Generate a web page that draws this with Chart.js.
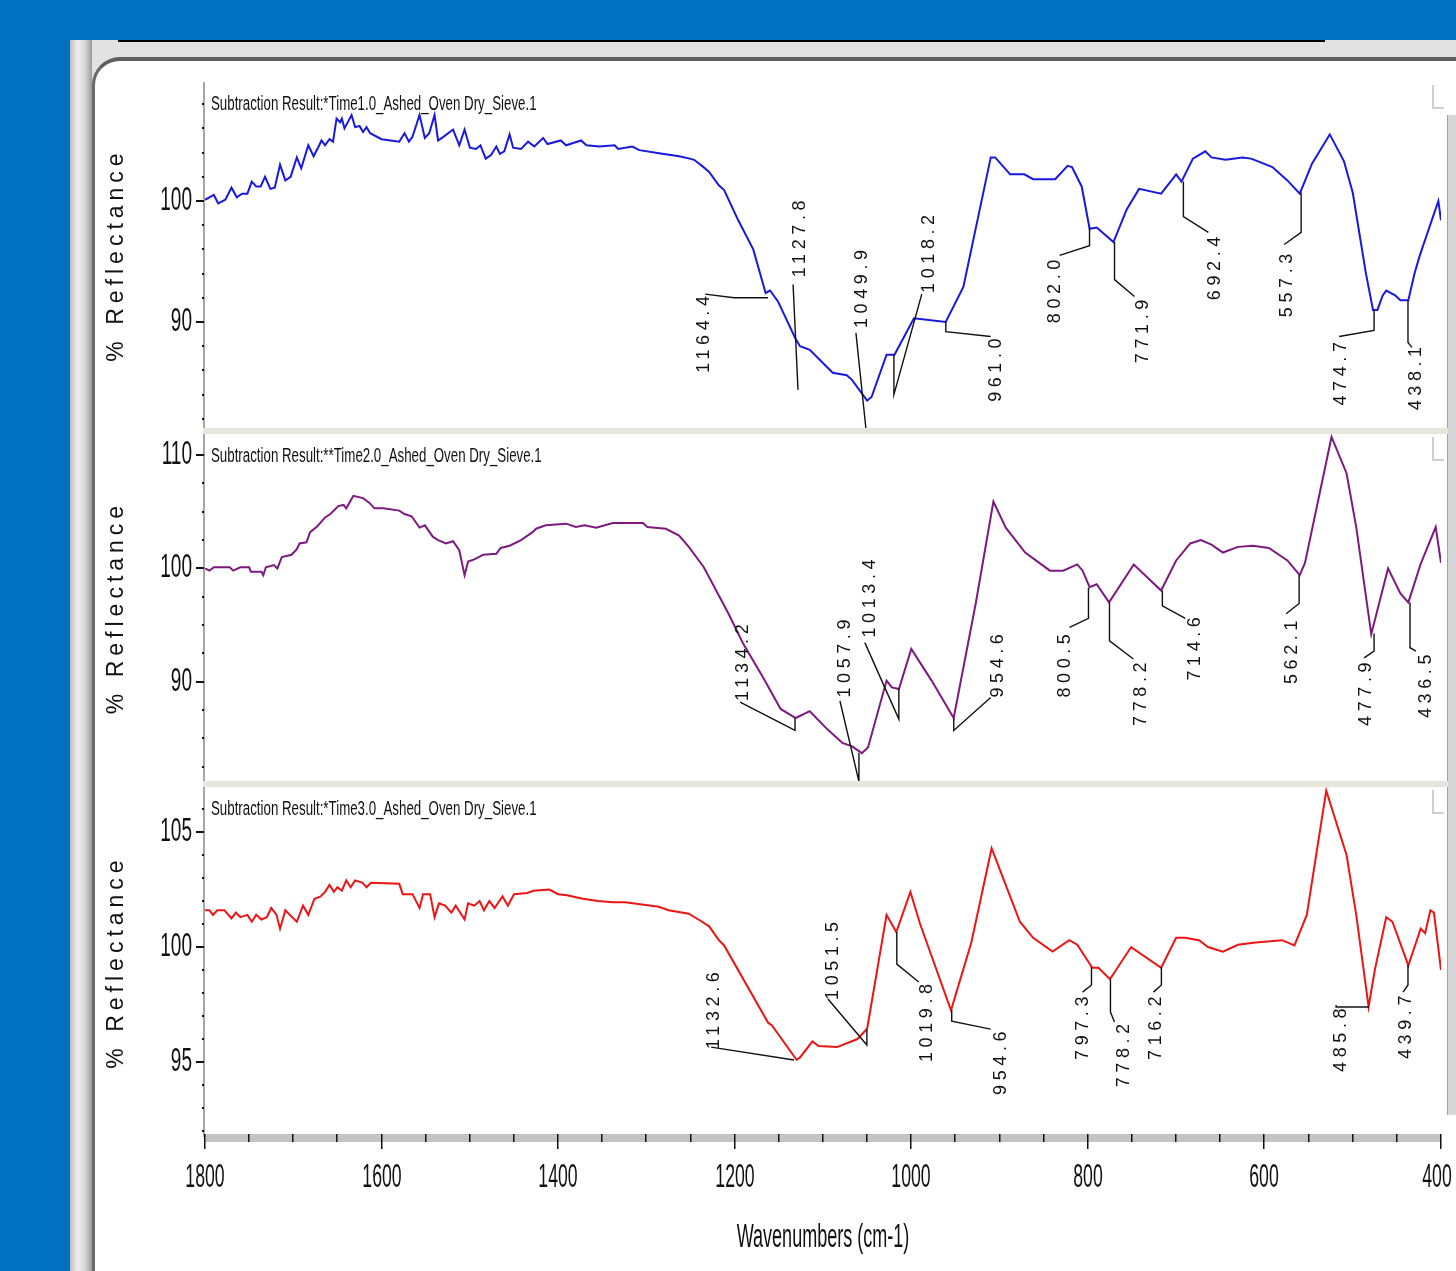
<!DOCTYPE html>
<html>
<head>
<meta charset="utf-8">
<style>
  html, body { margin: 0; padding: 0; }
  body { width: 1456px; height: 1271px; background: #0070c0; position: relative; overflow: hidden; }
  div, canvas { position: absolute; }
  .win { left: 70px; top: 40px; width: 1386px; height: 1231px; background: #e2e2e2; }
  .leftstrip { left: 70px; top: 40px; width: 22px; height: 1231px;
    background: linear-gradient(to right, #bdbdbd 0, #efefef 35%, #d4d4d4 70%, #9a9a9a 100%); }
  .topline { left: 118px; top: 40px; width: 1207px; height: 2px; background: #000; }
  .panel { left: 92px; top: 57px; width: 1420px; height: 1260px; background: #fff;
    border-top: 4px solid #5e5e5e; border-left: 3px solid #6a6a6a;
    border-top-left-radius: 28px; box-sizing: border-box; }
  .sep { left: 203px; width: 1245px; height: 6px; background: #e6e6da; }
  .scroll { left: 1447px; top: 115px; width: 9px; height: 1000px; background: #d6d6d6; border-left: 1px solid #a4a4a4; }
</style>
</head>
<body>
<div class="win"></div>
<div class="leftstrip"></div>
<div class="topline"></div>
<div class="panel"></div>
<div class="scroll"></div>
<div class="sep" style="top:428px"></div>
<div class="sep" style="top:781px"></div>
<canvas id="c1" width="1361" height="346" style="left:95px;top:82px"></canvas>
<canvas id="c2" width="1361" height="347" style="left:95px;top:434px"></canvas>
<canvas id="c3" width="1361" height="484" style="left:95px;top:787px"></canvas>

<script src="https://cdn.jsdelivr.net/npm/chart.js"></script>
<script>
// ---- data ----
const wn1 = [1800,1795,1790,1785,1777,1770,1764,1758,1752,1747,1742,1737,1732,1726,1721,1715,1709,1703,1696,1691,
  1683,1677,1672,1668,1664,1659,1655,1651,1647,1645,1642,1634,1630,1625,1621,1617,1613,1600,1580,1574,
  1569,1565,1557,1551,1546,1540,1536,1530,1519,1512,1506,1500,1493,1488,1482,1476,1470,1466,1461,1455,
  1451,1442,1434,1427,1417,1412,1397,1391,1374,1368,1353,1336,1332,1316,1308,1282,1263,1251,1246,1237,
  1229,1218,1212,1196,1179,1165,1160,1151,1131,1126,1115,1089,1073,1067,1050,1045,1028,1019,997,961,
  941,910,905,888,872,862,837,823,818,807,798,790,771,756,742,717,700,694,681,667,
  660,644,625,615,591,574,560,546,526,510,500,485,477,472,466,462,452,446,437,430,
  424,417,410,403,400];
const refl1 = [100.1,100.3,100.5,99.8,100.1,101.1,100.3,100.6,100.6,101.6,101.2,101.2,102.0,101.0,101.1,103.0,101.7,102.0,103.6,102.7,
  104.6,103.7,104.4,105.0,104.6,105.1,104.9,106.8,106.5,106.8,106.0,107.1,106.1,106.2,105.7,106.1,105.6,105.1,104.9,105.6,
  104.9,105.3,107.1,105.2,105.6,107.1,105.0,105.3,105.9,104.6,105.9,104.4,104.3,104.6,103.5,103.8,104.5,103.9,104.1,105.5,
  104.4,104.3,104.9,104.5,105.2,104.7,105.0,104.6,105.0,104.6,104.5,104.6,104.3,104.5,104.2,103.9,103.7,103.5,103.4,102.9,
  102.4,101.3,100.9,98.4,96.0,92.4,92.6,91.7,88.6,88.0,87.7,85.8,85.6,85.2,83.5,83.8,87.3,87.3,90.3,90.0,
  92.9,103.6,103.6,102.2,102.2,101.8,101.8,102.9,102.8,101.2,97.7,97.8,96.6,99.3,101.0,100.6,102.2,101.6,103.5,104.1,
  103.6,103.4,103.6,103.5,102.8,101.7,100.6,103.1,105.5,103.3,100.7,94.0,91.0,91.0,92.2,92.6,92.2,91.8,91.8,94.0,
  95.5,97.0,98.5,100.0,98.4];

const wn2 = [1800,1795,1790,1772,1768,1760,1750,1748,1736,1734,1731,1722,1718,1713,1702,1696,1693,1685,1681,1673,
  1664,1658,1649,1643,1640,1632,1621,1614,1608,1598,1580,1574,1566,1557,1551,1542,1536,1527,1519,1512,
  1506,1502,1495,1490,1485,1470,1465,1455,1442,1429,1425,1414,1391,1380,1370,1357,1338,1304,1299,1278,
  1263,1252,1235,1207,1190,1168,1148,1131,1115,1095,1078,1067,1056,1049,1028,1022,1014,1000,977,952,
  927,907,893,871,843,828,812,806,798,790,776,748,717,700,684,672,660,647,630,613,
  595,574,560,554,524,507,496,479,460,446,437,423,406,400];
const refl2 = [100.0,99.8,100.1,100.1,99.8,100.1,100.1,99.7,99.7,99.4,100.1,100.3,100.0,101.0,101.2,101.7,102.2,102.3,103.2,103.7,
  104.5,104.8,105.5,105.6,105.3,106.4,106.2,105.8,105.3,105.3,105.1,104.8,104.6,103.6,103.8,102.8,102.5,102.2,102.4,101.6,
  99.4,100.6,100.8,101.0,101.2,101.3,101.8,102.0,102.5,103.2,103.5,103.8,103.95,103.65,103.8,103.6,104.0,104.0,103.65,103.5,
  102.9,101.9,100.1,96.0,93.3,90.4,87.6,86.8,87.4,85.8,84.6,84.3,83.7,84.2,90.1,89.5,89.35,92.9,90.1,86.8,
  96.9,105.9,103.6,101.4,99.8,99.8,100.35,99.8,98.35,98.6,97.0,100.35,98.05,100.7,102.2,102.5,102.1,101.4,101.9,102.0,
  101.8,100.7,99.4,100.5,111.6,108.4,103.65,94.2,100.0,97.8,97.0,100.4,103.65,100.5];

const wn3 = [1800,1795,1791,1786,1778,1770,1765,1760,1752,1747,1742,1736,1730,1725,1719,1715,1709,1704,1696,1689,
  1683,1676,1669,1664,1659,1654,1650,1645,1640,1635,1630,1622,1617,1612,1580,1576,1565,1557,1553,1545,
  1540,1535,1528,1521,1516,1506,1502,1495,1489,1484,1478,1472,1463,1457,1450,1435,1428,1410,1400,1390,
  1372,1355,1338,1324,1286,1275,1252,1237,1229,1218,1212,1162,1158,1130,1126,1112,1105,1084,1061,1050,
  1028,1017,1001,990,955,932,909,896,877,862,840,821,812,795,788,775,751,717,700,690,
  674,664,647,630,610,580,566,552,530,507,496,482,475,462,455,437,423,418,412,408,400];
const refl3 = [101.6,101.6,101.4,101.6,101.6,101.25,101.5,101.3,101.4,101.1,101.4,101.2,101.3,101.7,101.4,100.8,101.6,101.4,101.1,101.8,
  101.4,102.1,102.2,102.4,102.7,102.4,102.6,102.45,102.9,102.6,102.9,102.8,102.6,102.8,102.75,102.3,102.3,101.7,102.3,102.3,
  101.3,101.9,101.8,101.5,101.8,101.2,101.9,101.8,102.0,101.6,102.0,101.7,102.2,101.8,102.3,102.35,102.45,102.5,102.3,102.25,
  102.1,102.0,101.95,101.95,101.75,101.6,101.45,101.1,100.9,100.3,100.07,96.7,96.6,95.1,95.2,95.9,95.7,95.65,96.0,96.45,
  101.4,100.65,102.4,101.0,97.25,100.2,104.3,103.0,101.1,100.4,99.8,100.3,100.1,99.1,99.1,98.6,100.0,99.1,100.4,100.4,
  100.3,100.0,99.8,100.1,100.2,100.3,100.07,101.4,106.8,104.0,101.4,97.4,99.0,101.3,101.1,99.2,100.8,100.6,101.6,101.5,99.0];

const peaks1 = ['1164.4','1127.8','1049.9','1018.2','961.0','802.0','771.9','692.4','557.3','474.7','438.1'];
const peaks2 = ['1134.2','1057.9','1013.4','954.6','800.5','778.2','714.6','562.1','477.9','436.5'];
const peaks3 = ['1132.6','1051.5','1019.8','954.6','797.3','778.2','716.2','485.8','439.7'];

const titles = ['Subtraction Result:*Time1.0_Ashed_Oven Dry_Sieve.1',
  'Subtraction Result:**Time2.0_Ashed_Oven Dry_Sieve.1',
  'Subtraction Result:*Time3.0_Ashed_Oven Dry_Sieve.1'];

// label placement for the peak marks, in (wavenumber, %R) units
const place1 = [
  { at: [1234.6, 85.8], path: [[1233.5, 92.3], [1200.7, 92.0], [1162.2, 92.0]] },
  { at: [1126.0, 93.7], path: [[1133.9, 93.1], [1128.3, 84.4]] },
  { at: [1055.9, 89.5], path: [[1062.7, 89.1], [1051.4, 81.2]] },
  { at: [980.2, 92.4], path: [[988.1, 92.3], [1019.7, 84.0], [1019.7, 87.3]] },
  { at: [904.4, 83.4], path: [[960.9, 90.0], [960.9, 89.2], [910.1, 88.8]] },
  { at: [837.7, 89.9], path: [[832.0, 95.5], [798.1, 96.3], [798.1, 97.8]] },
  { at: [737.0, 86.6], path: [[769.8, 96.6], [769.8, 93.5], [747.2, 92.1]] },
  { at: [655.6, 91.8], path: [[691.8, 101.6], [691.8, 98.7], [663.5, 97.4]] },
  { at: [574.2, 90.4], path: [[558.4, 100.7], [558.4, 97.4], [577.6, 96.4]] },
  { at: [513.1, 83.1], path: [[515.4, 88.8], [475.8, 89.3], [475.8, 91.0]] },
  { at: [428.3, 82.7], path: [[437.4, 91.8], [437.4, 88.3], [432.9, 87.9]] }
];
const place2 = [
  { at: [1190.5, 88.3], path: [[1193.9, 88.2], [1131.7, 85.7], [1131.7, 86.8]] },
  { at: [1075.2, 88.6], path: [[1080.8, 88.3], [1059.3, 81.2], [1059.3, 83.7]] },
  { at: [1046.9, 93.9], path: [[1052.6, 93.45], [1014.1, 86.7], [1014.1, 89.4]] },
  { at: [902.1, 88.6], path: [[910.1, 88.6], [951.9, 85.7], [951.9, 86.8]] },
  { at: [826.4, 88.6], path: [[820.7, 94.8], [799.3, 95.6], [799.3, 98.3]] },
  { at: [739.3, 86.1], path: [[775.5, 97.0], [775.5, 93.6], [748.4, 92.0]] },
  { at: [678.3, 90.1], path: [[715.6, 98.05], [715.6, 96.7], [689.6, 95.6]] },
  { at: [568.6, 89.8], path: [[560.7, 99.4], [560.7, 96.9], [575.4, 96.0]] },
  { at: [484.9, 86.1], path: [[487.1, 92.1], [475.8, 92.7], [475.8, 94.25]] },
  { at: [417.0, 86.8], path: [[435.1, 97.0], [435.1, 93.0], [428.3, 92.7]] }
];
const place3 = [
  { at: [1223.3, 95.57], path: [[1226.7, 95.65], [1132.8, 95.09]] },
  { at: [1088.7, 97.7], path: [[1094.4, 97.74], [1050.3, 95.74], [1050.3, 96.43]] },
  { at: [982.4, 95.0], path: [[1016.4, 100.65], [1016.4, 99.26], [991.5, 98.48]] },
  { at: [898.7, 93.57], path: [[954.2, 97.26], [954.2, 96.78], [910.1, 96.43]] },
  { at: [806.0, 95.09], path: [[795.9, 99.13], [795.9, 98.35], [806.0, 98.04]] },
  { at: [758.5, 93.9], path: [[774.4, 98.6], [774.4, 97.17], [769.8, 96.74]] },
  { at: [722.3, 95.09], path: [[716.7, 99.13], [716.7, 98.35], [725.7, 98.04]] },
  { at: [513.1, 94.57], path: [[518.8, 97.48], [518.8, 97.39], [481.5, 97.39]] },
  { at: [439.7, 95.13], path: [[437.4, 99.22], [437.4, 98.35], [443.0, 98.04]] }
];

const FONT = '"Liberation Sans", Arial, sans-serif';

// narrow, tall lettering like the OMNIC screen font
function squeezed(ctx, txt, x, y, size, sx, align) {
  ctx.save();
  ctx.font = size + 'px ' + FONT;
  ctx.textAlign = align;
  ctx.textBaseline = 'middle';
  ctx.translate(x, y);
  ctx.scale(sx, 1);
  ctx.fillText(txt, 0, 0);
  ctx.restore();
}

function makeDecor(cfg) {
  return {
    id: 'decor',
    afterDatasetsDraw(chart) {
      const { ctx, chartArea: a, scales: { x, y } } = chart;
      ctx.save();

      // y axis: grey line, dot ticks, labelled major ticks
      ctx.fillStyle = '#a6a6a6';
      ctx.fillRect(a.left - 2, a.top, 2, a.bottom - a.top);
      ctx.fillStyle = '#111';
      const start = Math.ceil(y.min / cfg.minor - 1e-9) * cfg.minor;
      for (let v = start; v <= y.max + 1e-9; v += cfg.minor) {
        const py = Math.round(y.getPixelForValue(v));
        const r = v / cfg.major;
        if (Math.abs(r - Math.round(r)) < 1e-6) {
          ctx.fillRect(a.left - 9, py - 1, 8, 2);
          squeezed(ctx, String(Math.round(v)), a.left - 13, py, 34, 0.56, 'right');
        } else {
          ctx.fillRect(a.left - 3, py - 1, 2, 2);
        }
      }

      // y title
      ctx.save();
      ctx.translate(a.left - 88, (a.top + a.bottom) / 2);
      ctx.rotate(-Math.PI / 2);
      ctx.font = '23px ' + FONT;
      ctx.letterSpacing = '5px';
      ctx.textAlign = 'center';
      ctx.textBaseline = 'middle';
      ctx.fillText('% Reflectance', 0, 0);
      ctx.restore();

      // spectrum title
      squeezed(ctx, cfg.title, a.left + 6, a.top + 22, 20, 0.665, 'left');

      // corner bracket
      ctx.strokeStyle = '#cfcfcf';
      ctx.lineWidth = 2;
      ctx.beginPath();
      ctx.moveTo(a.right - 8, a.top + 3);
      ctx.lineTo(a.right - 8, a.top + 26);
      ctx.lineTo(a.right + 3, a.top + 26);
      ctx.stroke();

      // peak marks
      ctx.strokeStyle = '#111';
      ctx.fillStyle = '#111';
      ctx.lineWidth = 1.4;
      cfg.peaks.forEach((txt, i) => {
        const p = cfg.place[i];
        ctx.beginPath();
        p.path.forEach(([w, v], j) => {
          const px = x.getPixelForValue(w), py = y.getPixelForValue(v);
          if (j) ctx.lineTo(px, py); else ctx.moveTo(px, py);
        });
        ctx.stroke();
        ctx.save();
        ctx.translate(x.getPixelForValue(p.at[0]), y.getPixelForValue(p.at[1]));
        ctx.rotate(-Math.PI / 2);
        ctx.font = '18px ' + FONT;
        ctx.letterSpacing = '4.6px';
        ctx.textAlign = 'left';
        ctx.textBaseline = 'middle';
        ctx.fillText(txt, 0, 0);
        ctx.restore();
      });

      // x axis on the bottom panel
      if (cfg.xaxis) {
        ctx.fillStyle = '#c4c4c4';
        ctx.fillRect(a.left, a.bottom - 3, a.right - a.left, 8);
        ctx.fillStyle = '#111';
        for (let w = x.min; w <= x.max; w += 50) {
          const px = Math.round(x.getPixelForValue(w));
          const major = w % 200 === 0;
          ctx.fillRect(px - 1, a.bottom - 3, 1.5, major ? 15 : 8);
          if (major) squeezed(ctx, String(w), px - (w === x.min ? 4 : 0), a.bottom + 41, 34, 0.52, 'center');
        }
        squeezed(ctx, 'Wavenumbers (cm-1)', (a.left + a.right) / 2, a.bottom + 101, 34, 0.53, 'center');
      }
      ctx.restore();
    }
  };
}

function spectrum(id, wn, refl, color, yMin, yMax, cfg) {
  const xScale = {
    type: 'linear', min: 400, max: 1800, reverse: true,
    display: !!cfg.xaxis,
    grid: { display: false }, border: { display: false },
    ticks: { display: false }
  };
  if (cfg.xaxis) xScale.afterFit = s => { s.height = 134; };
  return new Chart(document.getElementById(id), {
    type: 'line',
    data: {
      datasets: [{
        data: wn.map((w, i) => ({ x: w, y: refl[i] })),
        borderColor: color,
        borderWidth: 2,
        pointRadius: 0,
        tension: 0,
        fill: false
      }]
    },
    options: {
      responsive: false,
      animation: false,
      layout: { padding: { left: 0, right: 15, top: 0, bottom: 0 } },
      plugins: { legend: { display: false }, tooltip: { enabled: false } },
      scales: {
        x: xScale,
        y: {
          type: 'linear', min: yMin, max: yMax,
          grid: { display: false }, border: { display: false },
          ticks: { display: false },
          afterFit: s => { s.width = 110; }
        }
      }
    },
    plugins: [makeDecor(cfg)]
  });
}

spectrum('c1', wn1, refl1, '#1818e0', 81.24, 109.83,
  { minor: 2, major: 10, title: titles[0], peaks: peaks1, place: place1 });
spectrum('c2', wn2, refl2, '#7d1a80', 81.24, 111.86,
  { minor: 2.5, major: 10, title: titles[1], peaks: peaks2, place: place2 });
spectrum('c3', wn3, refl3, '#ec1414', 91.74, 106.96,
  { minor: 1, major: 5, title: titles[2], peaks: peaks3, place: place3, xaxis: true });
</script>
</body>
</html>
